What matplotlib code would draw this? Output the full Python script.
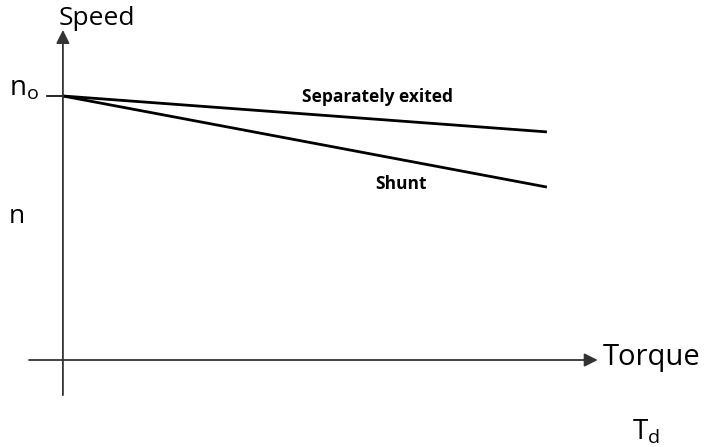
import matplotlib.pyplot as plt

# normalised torque / speed values
torque = [0.0, 1.0]
speed_separately = [1.0, 0.864]
speed_shunt = [1.0, 0.655]
curve_labels = ['Separately exited', 'Shunt']

plt.rcParams['font.family'] = ['Open Sans', 'DejaVu Sans']

fig = plt.figure(figsize=(7.1, 4.47), dpi=100)
ax = fig.add_axes([0, 0, 1, 1])
ax.set_xlim(-0.130, 1.337)
ax.set_ylim(-0.3295, 1.3636)
ax.axis('off')

# axes with arrows
ax.annotate('', xy=(0, 1.25), xytext=(0, -0.133),
            arrowprops=dict(arrowstyle='-|>', color='#333333', lw=1.3,
                            mutation_scale=20, shrinkA=0, shrinkB=0))
ax.annotate('', xy=(1.105, 0), xytext=(-0.070, 0),
            arrowprops=dict(arrowstyle='-|>', color='#333333', lw=1.3,
                            mutation_scale=20, shrinkA=0, shrinkB=0))

# no tick mark
ax.plot([-0.033, 0], [1.0, 1.0], color='black', lw=1.2)

ax.plot(torque, speed_separately, color='black', lw=2.0, solid_capstyle='butt')
ax.plot(torque, speed_shunt, color='black', lw=2.0, solid_capstyle='butt')

ax.text(0.651, 0.996, curve_labels[0], fontsize=12.5, fontweight='bold',
        ha='center', va='center')
ax.text(0.698, 0.667, curve_labels[1], fontsize=12.5, fontweight='bold',
        ha='center', va='center')

ax.text(-0.008, 1.295, 'Speed', fontsize=19, ha='left', va='center')
ax.text(1.116, 0.008, 'Torque', fontsize=21, ha='left', va='center')
ax.text(-0.081, 1.03, r'n$_\mathregular{o}$', fontsize=20, ha='center', va='center')
ax.text(-0.095, 0.542, 'n', fontsize=19, ha='center', va='center')
ax.text(1.205, -0.273, r'T$_\mathregular{d}$', fontsize=20, ha='center', va='center')

fig.savefig('out.png', dpi=100)
